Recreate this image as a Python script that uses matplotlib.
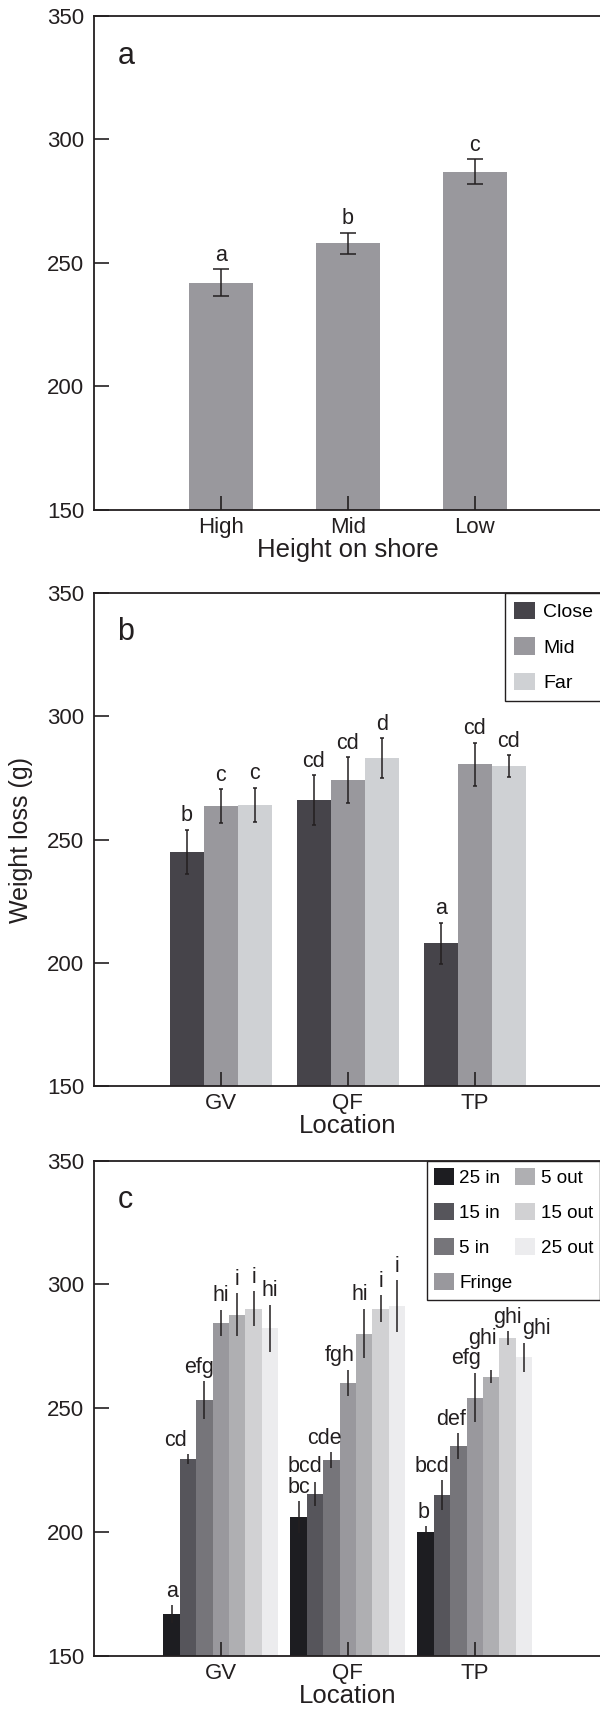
import matplotlib
matplotlib.use("Agg")
import matplotlib.pyplot as plt

plt.rcParams['font.family'] = ['Liberation Sans', 'DejaVu Sans']

INK = '#231f20'

# panel a - height on shore
heights = ['High', 'Mid', 'Low']
height_means = [242, 258, 287]
height_err = [5.5, 4.3, 5.0]
height_letters = ['a', 'b', 'c']

# panel b - distance, by location
locations = ['GV', 'QF', 'TP']
distances = ['Close', 'Mid', 'Far']
close_means = [245, 266, 208]
close_err = [9.0, 10.0, 8.4]
close_letters = ['b', 'cd', 'a']
mid_means = [263.6, 274.2, 280.5]
mid_err = [6.8, 9.3, 8.7]
mid_letters = ['c', 'cd', 'cd']
far_means = [264, 283, 279.7]
far_err = [7.0, 8.0, 4.5]
far_letters = ['c', 'd', 'cd']

# panel c - zone, by location
zones = ['25 in', '15 in', '5 in', 'Fringe', '5 out', '15 out', '25 out']
gv_means = [166.8, 229.5, 253.3, 284.4, 287.7, 290.2, 282.4]
gv_err = [3.6, 2.0, 7.5, 5.3, 8.7, 7.0, 9.5]
gv_letters = ['a', 'cd', 'efg', 'hi', 'i', 'i', 'hi']
qf_means = [206.0, 215.3, 229.1, 260.2, 280.1, 290.2, 291.3]
qf_err = [6.4, 4.8, 3.1, 5.3, 10.0, 5.4, 10.5]
qf_letters = ['bc', 'bcd', 'cde', 'fgh', 'hi', 'i', 'i']
tp_means = [199.8, 214.9, 234.7, 254.3, 262.7, 278.3, 270.6]
tp_err = [2.6, 6.0, 5.2, 10.0, 2.6, 2.8, 5.8]
tp_letters = ['b', 'bcd', 'def', 'efg', 'ghi', 'ghi', 'ghi']

# nudges of the letters in panel c (points), as placed in the original
gv_dx = [0, -9, -4, 0, 0, 0, 0]
qf_dx = [0, -7, -5, -5.5, -3, 0, 0]
tp_dx = [-1.5, -7.5, -5.5, -6, -6, 0, 9]
gv_dy = [0, 0, 0, 0, 0, 0, 0]
qf_dy = [0, 1.5, 0, 0, 0, 0, 0]
tp_dy = [0, 0, 0, 0, 13, 0, 0]

grey_a = '#99989d'
dist_colors = ['#46444a', '#99989d', '#cfd1d4']
zone_colors = ['#1d1d21', '#56555b', '#76757a', '#99989d', '#afafb2', '#d1d1d3', '#ececee']


def style_axes(ax, labels):
    ax.set_xlim(0, 4)
    ax.set_ylim(150, 350)
    ax.set_yticks([150, 200, 250, 300, 350])
    ax.set_xticks(range(1, len(labels) + 1))
    ax.set_xticklabels(labels)
    ax.tick_params(axis='y', direction='in', length=11, width=1.2, pad=7,
                   labelsize=16, color=INK, labelcolor=INK)
    ax.tick_params(axis='x', direction='in', length=10, width=1.2, pad=5,
                   labelsize=16, color=INK, labelcolor=INK)
    for sp in ax.spines.values():
        sp.set_linewidth(1.3)
        sp.set_color(INK)


def letter(ax, x, top, text, dx=0, dy=0):
    ax.annotate(text, (x, top), xytext=(dx, 2.5 + dy), textcoords='offset points',
                ha='center', va='bottom', fontsize=15.5, color=INK)


fig = plt.figure(figsize=(6, 17.12), dpi=100)
left, width = 0.1563, 0.8467
ax_a = fig.add_axes([left, 0.7023, width, 0.2883])
ax_b = fig.add_axes([left, 0.3654, width, 0.2883])
ax_c = fig.add_axes([left, 0.0329, width, 0.2891])

# a
xs = list(range(1, len(heights) + 1))
ax_a.bar(xs, [m - 150 for m in height_means], bottom=150, width=0.5, color=grey_a)
ax_a.errorbar(xs, height_means, yerr=height_err, fmt='none', ecolor=INK,
              elinewidth=1.1, capsize=5.8, capthick=1.1)
for x, m, e, t in zip(xs, height_means, height_err, height_letters):
    letter(ax_a, x, m + e, t)
style_axes(ax_a, heights)
ax_a.set_xlabel('Height on shore', fontsize=18.5, color=INK, labelpad=0)
ax_a.text(0.063, 0.92, 'a', transform=ax_a.transAxes, ha='center', va='center',
          fontsize=22, color=INK)

# b
w = 0.267
series_b = [(close_means, close_err, close_letters),
            (mid_means, mid_err, mid_letters),
            (far_means, far_err, far_letters)]
for j, (means, errs, lets) in enumerate(series_b):
    xb = [i + 1 + (j - 1) * w for i in range(len(locations))]
    ax_b.bar(xb, [m - 150 for m in means], bottom=150, width=w,
             color=dist_colors[j], label=distances[j])
    ax_b.errorbar(xb, means, yerr=errs, fmt='none', ecolor=INK,
                  elinewidth=1.1, capsize=1.5, capthick=1.1)
    for x, m, e, t in zip(xb, means, errs, lets):
        letter(ax_b, x, m + e, t)
style_axes(ax_b, locations)
ax_b.set_xlabel('Location', fontsize=18.5, color=INK, labelpad=0)
ax_b.set_ylabel('Weight loss (g)', fontsize=18, color=INK, labelpad=10)
ax_b.text(0.063, 0.92, 'b', transform=ax_b.transAxes, ha='center', va='center',
          fontsize=22, color=INK)
leg = ax_b.legend(loc='upper left', bbox_to_anchor=(0.8094, 1.0), borderaxespad=0,
                  fontsize=14, handlelength=1.08, handleheight=1.03,
                  handletextpad=0.45, labelspacing=0.82, borderpad=0.45,
                  fancybox=False, edgecolor=INK, framealpha=1)
leg.get_frame().set_linewidth(1.0)

# c
wc = 0.129
loc_means = [gv_means, qf_means, tp_means]
loc_err = [gv_err, qf_err, tp_err]
loc_letters = [gv_letters, qf_letters, tp_letters]
loc_dx = [gv_dx, qf_dx, tp_dx]
loc_dy = [gv_dy, qf_dy, tp_dy]
for j, zone in enumerate(zones):
    xc = [i + 1 + (j - 3) * wc for i in range(len(locations))]
    means = [lm[j] for lm in loc_means]
    errs = [le[j] for le in loc_err]
    ax_c.bar(xc, [m - 150 for m in means], bottom=150, width=wc,
             color=zone_colors[j], label=zone)
    ax_c.errorbar(xc, means, yerr=errs, fmt='none', ecolor=INK,
                  elinewidth=1.1, capsize=0)
    for x, m, e, ll, ddx, ddy in zip(xc, means, errs, loc_letters, loc_dx, loc_dy):
        letter(ax_c, x, m + e, ll[j], ddx[j], ddy[j])
style_axes(ax_c, locations)
ax_c.set_xlabel('Location', fontsize=18.5, color=INK, labelpad=0)
ax_c.text(0.063, 0.92, 'c', transform=ax_c.transAxes, ha='center', va='center',
          fontsize=22, color=INK)
leg = ax_c.legend(loc='upper left', bbox_to_anchor=(0.6553, 1.0), borderaxespad=0,
                  ncol=2, fontsize=13.6, handlelength=1.05, handleheight=1.0,
                  handletextpad=0.28, labelspacing=0.85, borderpad=0.4,
                  columnspacing=0.15, fancybox=False, edgecolor=INK, framealpha=1)
leg.get_frame().set_linewidth(1.0)

fig.savefig('out.png', dpi=100)
